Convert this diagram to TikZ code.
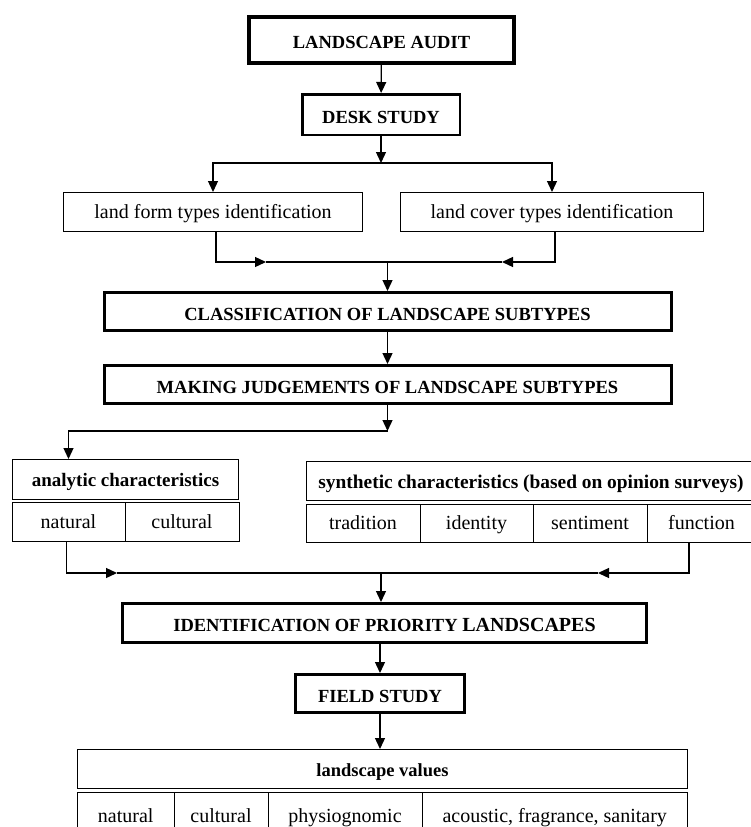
\documentclass[tikz,border=0pt]{standalone}
\usepackage{fontspec}
\setmainfont{Liberation Serif}
\usetikzlibrary{arrows.meta,positioning,calc}

\begin{document}
\begin{tikzpicture}[
    x=1pt, y=-1pt,
    stage/.style={draw, line width=3pt, inner sep=0pt, text height=17pt, text depth=0pt, font=\bfseries\fontsize{18.5}{22}\selectfont},
    cell/.style={draw, line width=1pt, inner sep=0pt, minimum height=38pt, text height=17pt, text depth=4.8pt, font=\fontsize{20}{24}\selectfont},
    head/.style={cell, text height=20pt, text depth=5.8pt, font=\bfseries\fontsize{19}{23}\selectfont},
    arr/.style={-{Triangle[length=11pt,width=10pt]}, line width=1.3pt},
    link/.style={line width=1.3pt}
]
    \useasboundingbox (0,0) rectangle (750,827);

    % Desk study
    \node[stage, line width=4pt, minimum width=265pt, minimum height=46pt] (audit) at (381.5,40) {LANDSCAPE AUDIT};
    \node[stage, line width=2.5pt, minimum width=157.5pt, minimum height=40.5pt] (desk) at (381,114.5) {DESK STUDY};
    \node[cell, minimum width=299pt, minimum height=39pt] (lform) at (213,212) {land form types identification};
    \node[cell, minimum width=303pt, minimum height=39pt] (lcover) at (552,212) {land cover types identification};

    % Subtypes
    \node[stage, minimum width=567pt, minimum height=38pt] (cls) at (387.5,311.5) {CLASSIFICATION OF LANDSCAPE SUBTYPES};
    \node[stage, minimum width=567pt, minimum height=38pt] (jdg) at (387.5,384.5) {MAKING JUDGEMENTS OF LANDSCAPE SUBTYPES};

    % Analytic characteristics
    \node[head, minimum width=226pt, minimum height=40pt] (anh) at (125.5,479.5) {analytic characteristics};
    \node[cell, minimum width=113pt, minimum height=39pt] (an1) at (68.5,522) {natural};
    \node[cell, minimum width=114pt, minimum height=39pt] (an2) at (182,522) {cultural};

    % Synthetic characteristics
    \node[head, font=\bfseries\fontsize{19.4}{23}\selectfont, minimum width=449pt, minimum height=39pt] (syh) at (531,481) {synthetic characteristics (based on opinion surveys)};
    \node[cell, minimum width=114pt] (sy1) at (363,523.5) {tradition};
    \node[cell, minimum width=113pt] (sy2) at (476.5,523.5) {identity};
    \node[cell, minimum width=114pt] (sy3) at (590,523.5) {sentiment};
    \node[cell, minimum width=109pt] (sy4) at (701.5,523.5) {function};

    % Priority landscapes and field study
    \node[stage, minimum width=524pt, minimum height=39pt] (idn) at (384.5,623) {IDENTIFICATION\ OF\ PRIORITY\ {\fontsize{20}{24}\selectfont LANDSCAPES}};
    \node[stage, minimum width=169pt, minimum height=38pt] (fld) at (380,693.5) {FIELD STUDY};

    % Landscape values
    \node[head, font=\bfseries\fontsize{18.5}{22}\selectfont, minimum width=610pt, minimum height=39pt] (lvh) at (382.5,769) {landscape values};
    \node[cell, minimum width=96.5pt, minimum height=47pt] (lv1) at (125.75,816) {natural};
    \node[cell, minimum width=94pt, minimum height=47pt] (lv2) at (221,816) {cultural};
    \node[cell, minimum width=154pt, minimum height=47pt] (lv3) at (345,816) {physiognomic};
    \node[cell, minimum width=265.5pt, minimum height=47pt] (lv4) at (554.75,816) {acoustic, fragrance, sanitary};

    % Arrows
    \coordinate (split1) at (381,163);
    \draw[arr] (audit) -- (desk);
    \draw[arr] (desk) -- (split1);
    \draw[arr] (split1) -| (lform.north);
    \draw[arr] (split1) -| (lcover.north);

    \coordinate (tip1) at (266,262);
    \coordinate (tip2) at (502,262);
    \coordinate (join1) at (387.5,262);
    \draw[arr] ([xshift=3pt]lform.south) |- (tip1);
    \draw[arr] ([xshift=3pt]lcover.south) |- (tip2);
    \draw[link] (tip1) -- (tip2);
    \draw[arr] (join1) -- (cls);
    \draw[arr] (cls) -- (jdg);

    \coordinate (split2) at (387.5,431);
    \draw[arr] (jdg) -- (split2);
    \draw[arr] (split2) -| (anh.north -| an1);

    \coordinate (tip3) at (117,573);
    \coordinate (tip4) at (598,573);
    \coordinate (join2) at (381,573);
    \draw[arr] ([xshift=-2pt]an1.south) |- (tip3);
    \draw[arr] ([xshift=-12.5pt]sy4.south) |- (tip4);
    \draw[link] (tip3) -- (tip4);
    \draw[arr] (join2) -- (join2 |- idn.north);
    \draw[arr] (idn.south -| fld) -- (fld);
    \draw[arr] (fld) -- (fld |- lvh.north);

\end{tikzpicture}
\end{document}
